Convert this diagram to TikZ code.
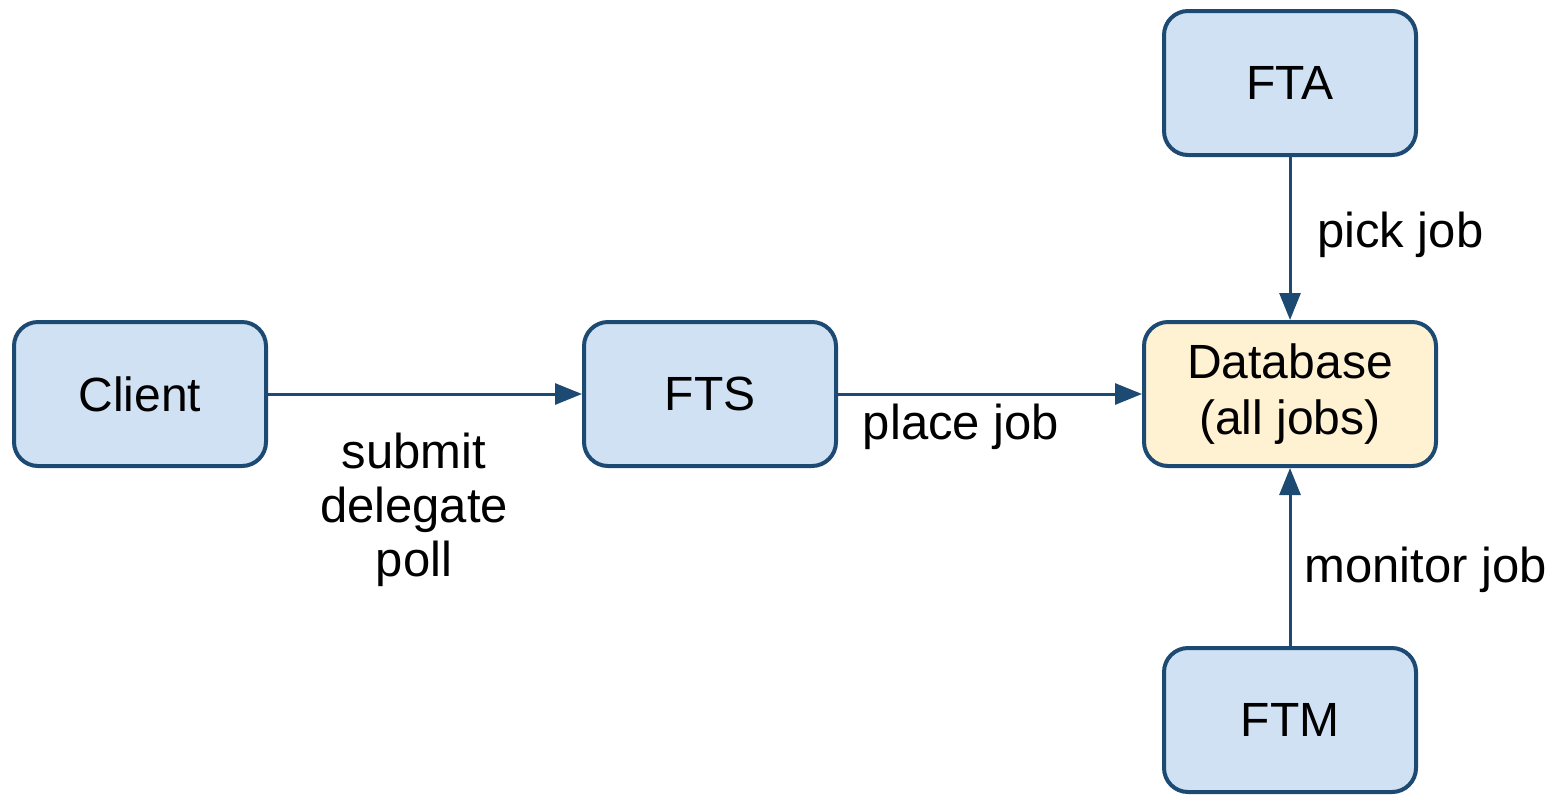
\documentclass[tikz,border=0pt]{standalone}
\usepackage{fontspec}
\setmainfont{Liberation Sans}
\usetikzlibrary{arrows.meta}
\definecolor{bordc}{HTML}{1D4A72}
\definecolor{bluef}{HTML}{CFE1F3}
\definecolor{yelf}{HTML}{FEF2D2}
\definecolor{arrc}{HTML}{1D4A72}
\begin{document}
\begin{tikzpicture}[x=1pt,y=-1pt,
  box/.style={draw=bordc,line width=4pt,rounded corners=24pt,fill=bluef,
    minimum width=252pt,minimum height=144pt,inner sep=0pt,
    font=\fontsize{48}{56}\selectfont,align=center},
  dbbox/.style={box,fill=yelf,minimum width=292pt},
  conn/.style={draw=arrc,line width=3pt,-{Triangle[length=27pt,width=21pt]}},
  lbl/.style={font=\fontsize{49}{54}\selectfont,align=center,inner sep=0pt}]
\useasboundingbox (0,0) rectangle (1562,796);
\node[box] (client) at (140,394) {Client};
\node[box] (fts) at (710,394) {FTS};
\node[dbbox] (db) at (1290,394) {Database\\(all jobs)};
\node[box] (fta) at (1290,83) {FTA};
\node[box] (ftm) at (1290,720) {FTM};
\draw[conn] (client) -- (fts);
\draw[conn] (fts) -- (db);
\draw[conn] (fta) -- (db);
\draw[conn] (ftm) -- (db);
\node[lbl] (l1) at (414,510) {submit\\delegate\\poll};
\node[lbl] (l2) at (961,427) {place job};
\node[lbl,anchor=west] (l3) at (1317,235) {pick job};
\node[lbl,anchor=west] (l4) at (1304,570) {monitor job};
\end{tikzpicture}
\end{document}
